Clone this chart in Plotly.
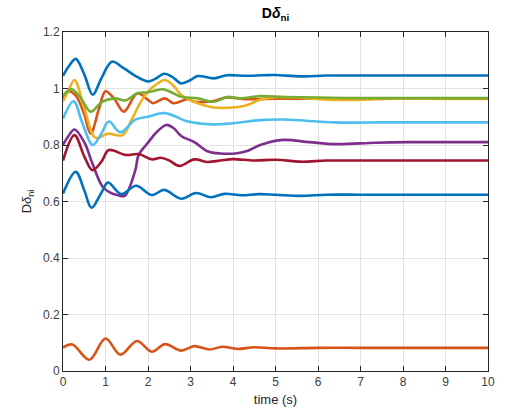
import plotly.graph_objects as go

# ---- data ----
t1 = [0, 0.12, 0.3, 0.5, 0.7, 0.9, 1.15, 1.4, 1.7, 2.0, 2.18, 2.38, 2.58, 2.78, 3.0, 3.17, 3.55, 3.86, 4.3, 4.7, 5.0, 5.6, 6.2, 7, 8, 9, 10]
v1 = [1.045, 1.075, 1.105, 1.05, 0.978, 1.035, 1.095, 1.075, 1.045, 1.025, 1.035, 1.052, 1.04, 1.018, 1.03, 1.044, 1.036, 1.047, 1.045, 1.047, 1.048, 1.043, 1.046, 1.046, 1.046, 1.046, 1.046]

t2 = [0, 0.12, 0.3, 0.5, 0.65, 0.85, 1.0, 1.2, 1.43, 1.75, 2.0, 2.12, 2.4, 2.6, 2.93, 3.1, 3.5, 3.86, 4.3, 5, 6, 7, 8, 9, 10]
v2 = [0.965, 0.99, 0.975, 0.91, 0.84, 0.93, 0.99, 0.965, 0.918, 0.983, 0.96, 0.948, 0.965, 0.948, 0.962, 0.953, 0.955, 0.968, 0.962, 0.964, 0.964, 0.964, 0.964, 0.964, 0.964]

t3 = [0, 0.12, 0.27, 0.5, 0.77, 1.05, 1.4, 1.6, 1.8, 2.0, 2.2, 2.4, 2.6, 2.78, 3.17, 3.55, 4.0, 4.3, 4.64, 5.03, 5.5, 6.2, 7.0, 7.8, 9, 10]
v3 = [0.955, 0.99, 1.03, 0.93, 0.825, 0.84, 0.835, 0.885, 0.945, 0.989, 1.015, 1.03, 1.01, 0.977, 0.948, 0.933, 0.933, 0.94, 0.96, 0.969, 0.968, 0.96, 0.96, 0.964, 0.963, 0.963]

t4 = [0, 0.12, 0.27, 0.5, 0.69, 0.92, 1.1, 1.3, 1.45, 1.7, 1.78, 2.01, 2.2, 2.43, 2.6, 2.78, 3.09, 3.4, 3.7, 4.1, 4.35, 4.64, 5.18, 5.8, 6.42, 7.35, 8.1, 9, 10]
v4 = [0.80, 0.83, 0.855, 0.81, 0.735, 0.655, 0.632, 0.622, 0.62, 0.71, 0.765, 0.81, 0.845, 0.871, 0.86, 0.832, 0.81, 0.778, 0.77, 0.771, 0.78, 0.80, 0.818, 0.81, 0.803, 0.808, 0.81, 0.81, 0.81]

t5 = [0, 0.2, 0.4, 0.65, 0.92, 1.23, 1.47, 1.75, 2.0, 2.36, 2.78, 3.17, 3.55, 3.86, 4.17, 4.64, 5.2, 6, 7, 8, 9, 10]
v5 = [0.975, 0.997, 0.97, 0.918, 0.953, 0.965, 0.958, 0.983, 0.987, 0.997, 0.971, 0.965, 0.953, 0.97, 0.965, 0.973, 0.97, 0.968, 0.966, 0.966, 0.966, 0.966]

t6 = [0, 0.25, 0.45, 0.7, 0.9, 1.08, 1.35, 1.7, 2.0, 2.4, 2.94, 3.5, 4.0, 4.64, 5.2, 6.4, 7.5, 8.5, 10]
v6 = [0.893, 0.955, 0.88, 0.80, 0.84, 0.883, 0.845, 0.89, 0.90, 0.913, 0.883, 0.873, 0.877, 0.888, 0.89, 0.88, 0.88, 0.88, 0.88]

t7 = [0, 0.27, 0.5, 0.69, 0.9, 1.08, 1.47, 1.78, 2.1, 2.3, 2.5, 2.74, 3.09, 3.4, 3.7, 4.0, 4.5, 5.0, 5.6, 6.2, 7, 8, 9, 10]
v7 = [0.745, 0.835, 0.76, 0.711, 0.74, 0.782, 0.765, 0.768, 0.749, 0.755, 0.745, 0.726, 0.749, 0.74, 0.745, 0.75, 0.745, 0.748, 0.741, 0.745, 0.745, 0.745, 0.745, 0.745]

t8 = [0, 0.3, 0.5, 0.67, 0.9, 1.06, 1.37, 1.72, 2.09, 2.38, 2.78, 3.13, 3.48, 3.8, 4.2, 4.6, 5.0, 5.6, 6.2, 7, 8, 9, 10]
v8 = [0.628, 0.705, 0.64, 0.578, 0.63, 0.667, 0.626, 0.656, 0.623, 0.641, 0.61, 0.63, 0.615, 0.627, 0.622, 0.626, 0.624, 0.62, 0.624, 0.624, 0.624, 0.624, 0.624]

t9 = [0, 0.22, 0.62, 1.0, 1.35, 1.74, 2.09, 2.4, 2.78, 3.09, 3.45, 3.75, 4.1, 4.5, 5, 6, 7, 8, 9, 10]
v9 = [0.083, 0.094, 0.04, 0.115, 0.058, 0.106, 0.068, 0.095, 0.072, 0.088, 0.076, 0.086, 0.078, 0.084, 0.08, 0.082, 0.082, 0.082, 0.082, 0.082]

series = [(t1, v1), (t2, v2), (t3, v3), (t4, v4), (t5, v5), (t6, v6), (t7, v7), (t8, v8), (t9, v9)]
colors = ["#0072BD", "#D95319", "#EDB120", "#7E2F8E", "#77AC30", "#4DBEEE", "#A2142F", "#0072BD", "#D95319"]

x_ticks = list(range(0, 11))
y_ticks = [0, 0.2, 0.4, 0.6, 0.8, 1.0, 1.2]
y_tick_text = ["0", "0.2", "0.4", "0.6", "0.8", "1", "1.2"]

fig = go.Figure()
for (tt, vv), c in zip(series, colors):
    fig.add_trace(go.Scatter(x=tt, y=vv, mode="lines",
                             line=dict(color=c, width=2.6, shape="spline", smoothing=1.0),
                             showlegend=False, hoverinfo="skip"))

axis_common = dict(showline=True, linecolor="#262626", linewidth=1, mirror="ticks",
                   ticks="inside", ticklen=5, tickcolor="#262626",
                   showgrid=True, gridcolor="#e3e3e3", gridwidth=1, zeroline=False,
                   tickfont=dict(family="Liberation Sans, Arial", size=12, color="#404040"))

fig.update_xaxes(range=[0, 10], tickvals=x_ticks,
                 title=dict(text="time (s)", font=dict(family="Liberation Sans, Arial", size=13, color="#262626"), standoff=6),
                 **axis_common)
fig.update_yaxes(range=[0, 1.2], tickvals=y_ticks, ticktext=y_tick_text,
                 title=dict(text="D<i>δ</i><sub>ni</sub>", font=dict(family="Liberation Sans, Arial", size=13, color="#262626"), standoff=8),
                 **axis_common)

fig.update_layout(
    width=507, height=419,
    margin=dict(l=63, r=13, t=32, b=48),
    paper_bgcolor="white", plot_bgcolor="white",
    title=dict(text="<b>D<i>δ</i><sub>ni</sub></b>", x=0.5, xref="paper", xanchor="center",
               y=1 - 13 / 419, yref="container", yanchor="middle",
               font=dict(family="Liberation Sans, Arial", size=14, color="#000000")),
)

fig.write_html("out.html")
